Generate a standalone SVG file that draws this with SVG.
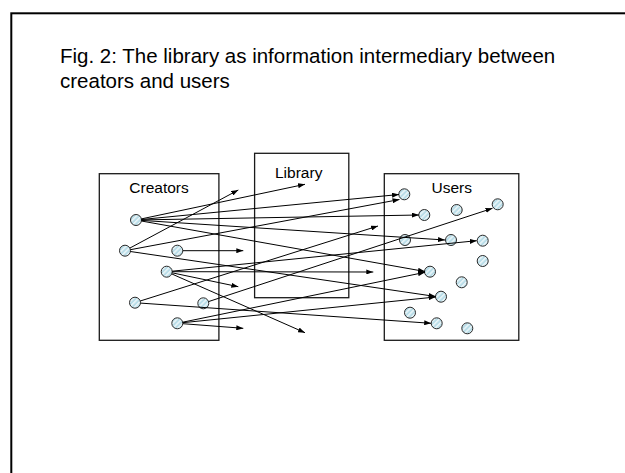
<svg xmlns="http://www.w3.org/2000/svg" width="625" height="473" viewBox="0 0 625 473">
  <style>
    .frame { fill: none; stroke: #000; stroke-width: 2; }
    .box { fill: #fff; stroke: #1a1a1a; stroke-width: 1.3; }
    .title { font-family: "Liberation Sans", Arial, sans-serif; font-size: 20.5px; fill: #000; }
    .label { font-family: "Liberation Sans", Arial, sans-serif; font-size: 15.5px; fill: #000; text-anchor: middle; }
    .dot { fill: url(#hatch); stroke: #2a2a2a; stroke-width: 1; }
    .link { fill: none; stroke: #000; stroke-width: 1; marker-end: url(#arrow); }
  </style>
  <defs>
    <pattern id="hatch" patternUnits="userSpaceOnUse" width="3.5" height="3.5" patternTransform="rotate(45)">
      <rect width="3.5" height="3.5" fill="#b9dde8"/>
      <line x1="0.8" y1="0" x2="0.8" y2="3.5" stroke="#ffffff" stroke-width="1.1"/>
    </pattern>
    <marker id="arrow" markerUnits="userSpaceOnUse" markerWidth="7" markerHeight="5" refX="7" refY="2.5" orient="auto">
      <path d="M0,0 L7,2.5 L0,5 z" fill="#000"/>
    </marker>
  </defs>

  <rect width="625" height="473" fill="#fff"/>
  <!-- slide frame, running off the right and bottom edges -->
  <rect class="frame" x="11.3" y="13.3" width="640" height="480"/>

  <g id="title">
    <text class="title" x="60" y="63.3">Fig. 2: The library as information intermediary between</text>
    <text class="title" x="60" y="87.5">creators and users</text>
  </g>

  <g id="creators">
    <rect class="box" x="99.3" y="173.7" width="119.6" height="166.6"/>
    <text class="label" x="159" y="193.3">Creators</text>
    <circle class="dot" cx="136" cy="220" r="5.5"/>
    <circle class="dot" cx="125" cy="250.7" r="5.5"/>
    <circle class="dot" cx="177.3" cy="250.7" r="5.5"/>
    <circle class="dot" cx="166.7" cy="271.7" r="5.5"/>
    <circle class="dot" cx="135" cy="302.7" r="5.5"/>
    <circle class="dot" cx="203.3" cy="303.3" r="5.5"/>
    <circle class="dot" cx="177.3" cy="323.3" r="5.5"/>
  </g>

  <g id="library">
    <rect class="box" x="254.6" y="153.3" width="94.2" height="144.4" fill-opacity="0"/>
    <text class="label" x="298.7" y="178.3">Library</text>
  </g>

  <g id="users">
    <rect class="box" x="384.3" y="173.7" width="134.5" height="166.6"/>
    <text class="label" x="451.7" y="193.3">Users</text>
    <circle class="dot" cx="404.3" cy="194.3" r="5.5"/>
    <circle class="dot" cx="424.3" cy="215" r="5.5"/>
    <circle class="dot" cx="456.7" cy="210" r="5.5"/>
    <circle class="dot" cx="497.7" cy="204.3" r="5.5"/>
    <circle class="dot" cx="405" cy="240" r="5.5"/>
    <circle class="dot" cx="451" cy="240" r="5.5"/>
    <circle class="dot" cx="482.7" cy="240.7" r="5.5"/>
    <circle class="dot" cx="482.7" cy="261" r="5.5"/>
    <circle class="dot" cx="430" cy="271.7" r="5.5"/>
    <circle class="dot" cx="461.7" cy="282.3" r="5.5"/>
    <circle class="dot" cx="441" cy="296.7" r="5.5"/>
    <circle class="dot" cx="410" cy="312.7" r="5.5"/>
    <circle class="dot" cx="436.7" cy="323.3" r="5.5"/>
    <circle class="dot" cx="467.3" cy="328.3" r="5.5"/>
  </g>

  <g id="connectors">
    <line class="link" x1="141.4" y1="218.9" x2="305" y2="184.3"/>
    <line class="link" x1="141.5" y1="219.5" x2="399" y2="194.5"/>
    <line class="link" x1="141.5" y1="219.9" x2="419" y2="215"/>
    <line class="link" x1="141.5" y1="220.4" x2="445" y2="240"/>
    <line class="link" x1="141.4" y1="221" x2="425" y2="271.5"/>
    <line class="link" x1="129.8" y1="248.1" x2="238.3" y2="190"/>
    <line class="link" x1="130.4" y1="249.7" x2="399.5" y2="199.5"/>
    <line class="link" x1="130.4" y1="251.5" x2="435.7" y2="296.5"/>
    <line class="link" x1="182.8" y1="250.7" x2="243.3" y2="250.7"/>
    <line class="link" x1="172.2" y1="271.7" x2="373.3" y2="272"/>
    <line class="link" x1="172.2" y1="271.2" x2="476.7" y2="240.7"/>
    <line class="link" x1="172.1" y1="272.8" x2="238.3" y2="286.7"/>
    <line class="link" x1="171.7" y1="273.9" x2="305" y2="332.7"/>
    <line class="link" x1="140.2" y1="301" x2="378" y2="226"/>
    <line class="link" x1="140.5" y1="303.1" x2="431.2" y2="323.3"/>
    <line class="link" x1="208.5" y1="301.6" x2="492.5" y2="208.3"/>
    <line class="link" x1="182.8" y1="323.7" x2="243.3" y2="328.3"/>
    <line class="link" x1="182.7" y1="322.2" x2="425" y2="272.3"/>
    <line class="link" x1="182.8" y1="322.7" x2="435.6" y2="297"/>
  </g>
</svg>
